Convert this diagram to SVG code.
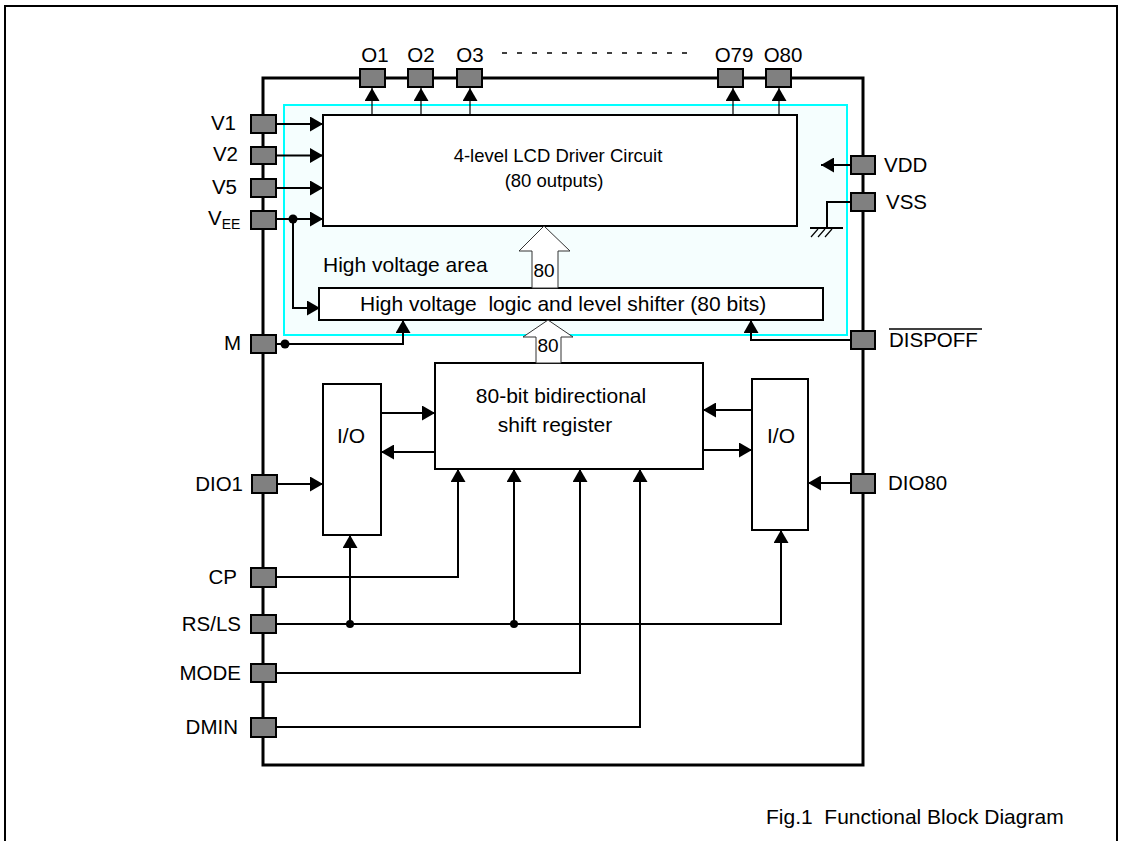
<svg xmlns="http://www.w3.org/2000/svg" width="1124" height="841" viewBox="0 0 1124 841">
<style>
  text { font-family: "Liberation Sans", Arial, sans-serif; fill: #000; white-space: pre; }
  .lbl { font-size: 20.5px; }
  .blk { font-size: 21px; }
  .lcd { font-size: 18.5px; }
  .box { fill: #fff; stroke: #000; stroke-width: 2; }
  .pad { fill: #808080; stroke: #000; stroke-width: 2; }
  .w { fill: none; stroke: #000; stroke-width: 2; }
  .wt { fill: none; stroke: #000; stroke-width: 1.2; }
  .arr { marker-end: url(#ah); }
  .hollow { fill: #fff; stroke: #333; stroke-width: 1; }
</style>
<defs>
  <marker id="ah" markerWidth="14" markerHeight="15" refX="13" refY="7.5" orient="auto" markerUnits="userSpaceOnUse">
    <path d="M0,0 L13,7.5 L0,15 z" fill="#000"/>
  </marker>
</defs>
<rect x="0" y="0" width="1124" height="841" fill="#fff"/>
<!-- outer frame -->
<rect x="5" y="6" width="1112" height="900" fill="none" stroke="#000" stroke-width="2"/>

<!-- high voltage area -->
<g id="hv-area">
  <rect x="284" y="105" width="563" height="230" fill="#f5fefe" stroke="#00ffff" stroke-width="2"/>
  <text class="blk" x="323" y="272">High voltage area</text>
</g>

<!-- chip outline -->
<g id="chip">
  <rect x="263" y="78" width="600" height="687" fill="none" stroke="#000" stroke-width="3"/>
</g>

<g id="lcd-driver">
  <rect class="box" x="323" y="115" width="474" height="111"/>
  <text class="lcd" x="558" y="162" text-anchor="middle">4-level LCD Driver Circuit</text>
  <text class="lcd" x="554" y="187" text-anchor="middle">(80 outputs)</text>
</g>

<g id="hv-logic">
  <rect class="box" x="319" y="288" width="504" height="32"/>
  <text class="blk" x="360" y="311" xml:space="preserve">High voltage  logic and level shifter (80 bits)</text>
</g>

<g id="shift-register">
  <rect class="box" x="435" y="363" width="268" height="106"/>
  <text class="blk" x="561" y="403" text-anchor="middle">80-bit bidirectional</text>
  <text class="blk" x="555" y="432" text-anchor="middle">shift register</text>
</g>

<g id="io-left">
  <rect class="box" x="323" y="384" width="58" height="151"/>
  <text class="blk" x="351" y="443" text-anchor="middle">I/O</text>
</g>

<g id="io-right">
  <rect class="box" x="752" y="379" width="56" height="151"/>
  <text class="blk" x="781" y="443" text-anchor="middle">I/O</text>
</g>

<!-- connectors -->
<g id="connectors">
  <!-- outputs -->
  <line class="wt arr" x1="372" y1="115" x2="372" y2="88"/>
  <line class="wt arr" x1="421" y1="115" x2="421" y2="88"/>
  <line class="wt arr" x1="470" y1="115" x2="470" y2="88"/>
  <line class="wt arr" x1="733" y1="115" x2="733" y2="88"/>
  <line class="wt arr" x1="779" y1="115" x2="779" y2="88"/>
  <line x1="502" y1="53" x2="692" y2="53" stroke="#000" stroke-width="1.5" stroke-dasharray="5,10"/>
  <!-- V inputs -->
  <line class="w arr" x1="276" y1="124" x2="323" y2="124"/>
  <line class="w arr" x1="276" y1="155.5" x2="323" y2="155.5"/>
  <line class="w arr" x1="276" y1="188" x2="323" y2="188"/>
  <line class="w arr" x1="276" y1="219" x2="323" y2="219"/>
  <circle cx="293" cy="219" r="4.5" fill="#000"/>
  <polyline class="w arr" points="293,219 293,308 320,308"/>
  <!-- VDD / VSS -->
  <line class="w arr" x1="851" y1="165" x2="821" y2="165"/>
  <polyline class="w" points="851,202 827,202 827,228"/>
  <line x1="810" y1="228" x2="843" y2="228" stroke="#000" stroke-width="2"/>
  <g stroke="#000" stroke-width="1.2">
    <line x1="811" y1="237" x2="818" y2="229"/>
    <line x1="818" y1="237" x2="825" y2="229"/>
    <line x1="825" y1="237" x2="832" y2="229"/>
  </g>
  <!-- hollow bus arrows -->
  <polygon class="hollow" points="532,288 532,251 519,251 544,226 570,251 558,251 558,288"/>
  <text x="544" y="277" font-size="19" text-anchor="middle">80</text>
  <polygon class="hollow" points="536,363 536,337 523,337 548,320 573,337 561,337 561,363"/>
  <text x="548" y="352" font-size="19" text-anchor="middle">80</text>
  <!-- M -->
  <circle cx="285" cy="344" r="4.5" fill="#000"/>
  <polyline class="w arr" points="276,344 403,344 403,320"/>
  <!-- DISPOFF -->
  <polyline class="w arr" points="851,340 751,340 751,320"/>
  <!-- I/O to shift register -->
  <line class="w arr" x1="381" y1="413" x2="435" y2="413"/>
  <line class="w arr" x1="435" y1="452" x2="381" y2="452"/>
  <line class="w arr" x1="752" y1="410" x2="703" y2="410"/>
  <line class="w arr" x1="703" y1="450" x2="752" y2="450"/>
  <!-- DIO -->
  <line class="w arr" x1="277" y1="484" x2="323" y2="484"/>
  <line class="w arr" x1="851" y1="483" x2="808" y2="483"/>
  <!-- CP -->
  <polyline class="w arr" points="276,577 458,577 458,469"/>
  <!-- RS/LS -->
  <polyline class="w arr" points="276,624 781,624 781,530"/>
  <line class="w arr" x1="350" y1="624" x2="350" y2="535"/>
  <line class="w arr" x1="514" y1="624" x2="514" y2="469"/>
  <circle cx="350" cy="624" r="4" fill="#000"/>
  <circle cx="514" cy="624" r="4" fill="#000"/>
  <!-- MODE -->
  <polyline class="w arr" points="276,673 580,673 580,469"/>
  <!-- DMIN -->
  <polyline class="w arr" points="276,727 640,727 640,469"/>
</g>

<!-- pins -->
<g id="pin-O1"><rect class="pad" x="360" y="69" width="25" height="18"/><text class="lbl" x="375" y="62" text-anchor="middle">O1</text></g>
<g id="pin-O2"><rect class="pad" x="408" y="69" width="25" height="18"/><text class="lbl" x="421" y="62" text-anchor="middle">O2</text></g>
<g id="pin-O3"><rect class="pad" x="457" y="69" width="25" height="18"/><text class="lbl" x="470" y="62" text-anchor="middle">O3</text></g>
<g id="pin-O79"><rect class="pad" x="718" y="69" width="25" height="18"/><text class="lbl" x="734" y="62" text-anchor="middle">O79</text></g>
<g id="pin-O80"><rect class="pad" x="766" y="69" width="25" height="18"/><text class="lbl" x="783" y="62" text-anchor="middle">O80</text></g>

<g id="pin-V1"><rect class="pad" x="251" y="115" width="25" height="18"/><text class="lbl" x="236" y="130" text-anchor="end">V1</text></g>
<g id="pin-V2"><rect class="pad" x="251" y="147" width="25" height="17"/><text class="lbl" x="238" y="161" text-anchor="end">V2</text></g>
<g id="pin-V5"><rect class="pad" x="251" y="179" width="25" height="18"/><text class="lbl" x="237" y="194" text-anchor="end">V5</text></g>
<g id="pin-VEE"><rect class="pad" x="251" y="211" width="25" height="18"/><text class="lbl" x="208" y="225">V<tspan font-size="14" dy="4">EE</tspan></text></g>
<g id="pin-M"><rect class="pad" x="251" y="335" width="25" height="18"/><text class="lbl" x="241" y="350" text-anchor="end">M</text></g>
<g id="pin-DIO1"><rect class="pad" x="252" y="475" width="25" height="18"/><text class="lbl" x="243" y="491" text-anchor="end">DIO1</text></g>
<g id="pin-CP"><rect class="pad" x="251" y="568" width="25" height="19"/><text class="lbl" x="237" y="584" text-anchor="end">CP</text></g>
<g id="pin-RSLS"><rect class="pad" x="251" y="615" width="25" height="18"/><text class="lbl" x="241" y="631" text-anchor="end">RS/LS</text></g>
<g id="pin-MODE"><rect class="pad" x="251" y="664" width="25" height="18"/><text class="lbl" x="241" y="680" text-anchor="end">MODE</text></g>
<g id="pin-DMIN"><rect class="pad" x="251" y="718" width="25" height="19"/><text class="lbl" x="238" y="734" text-anchor="end">DMIN</text></g>

<g id="pin-VDD"><rect class="pad" x="851" y="156" width="24" height="18"/><text class="lbl" x="884" y="172">VDD</text></g>
<g id="pin-VSS"><rect class="pad" x="851" y="193" width="24" height="18"/><text class="lbl" x="886" y="209">VSS</text></g>
<g id="pin-DISPOFF"><rect class="pad" x="851" y="331" width="24" height="18"/><text class="lbl" x="889" y="347">DISPOFF</text><line x1="889" y1="329" x2="982" y2="329" stroke="#000" stroke-width="1.5"/></g>
<g id="pin-DIO80"><rect class="pad" x="851" y="474" width="24" height="19"/><text class="lbl" x="888" y="490">DIO80</text></g>

<text class="blk" x="766" y="824" xml:space="preserve">Fig.1  Functional Block Diagram</text>
</svg>
